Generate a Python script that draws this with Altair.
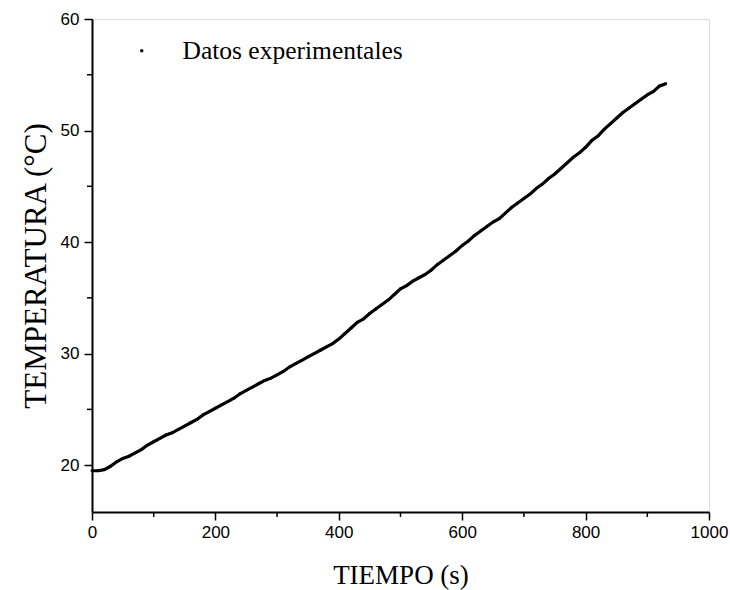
import altair as alt
import pandas as pd

# Heating curve: time (s) and measured temperature (°C)
tiempo = list(range(0, 940, 10))
temperatura = [
    19.5, 19.5, 19.6, 19.9, 20.3, 20.6, 20.8, 21.1, 21.4, 21.8,
    22.1, 22.4, 22.7, 22.9, 23.2, 23.5, 23.8, 24.1, 24.5, 24.8,
    25.1, 25.4, 25.7, 26.0, 26.4, 26.7, 27.0, 27.3, 27.6, 27.8,
    28.1, 28.4, 28.8, 29.1, 29.4, 29.7, 30.0, 30.3, 30.6, 30.9,
    31.3, 31.8, 32.3, 32.8, 33.1, 33.6, 34.0, 34.4, 34.8, 35.3,
    35.8, 36.1, 36.5, 36.8, 37.1, 37.5, 38.0, 38.4, 38.8, 39.2,
    39.7, 40.1, 40.6, 41.0, 41.4, 41.8, 42.1, 42.6, 43.1, 43.5,
    43.9, 44.3, 44.8, 45.2, 45.7, 46.1, 46.6, 47.1, 47.6, 48.0,
    48.5, 49.1, 49.5, 50.1, 50.6, 51.1, 51.6, 52.0, 52.4, 52.8,
    53.2, 53.5, 54.0, 54.2,
]
serie = "Datos experimentales"

x_major = [0, 200, 400, 600, 800, 1000]
x_minor = [100, 300, 500, 700, 900]
y_major = [20, 30, 40, 50, 60]
y_minor = [25, 35, 45, 55]

W, H = 617, 493

df = pd.DataFrame({"t": tiempo, "T": temperatura, "serie": serie})
df_xminor = pd.DataFrame({"t": x_minor})
df_yminor = pd.DataFrame({"T": y_minor})

SANS = "Liberation Sans"
SERIF = "Liberation Serif"

xscale = alt.Scale(domain=[0, 1000], nice=False, zero=False)
yscale = alt.Scale(domain=[15.8, 60], nice=False, zero=False)

major_axis = dict(
    grid=False, ticks=True, domainColor="black", domainWidth=2,
    tickColor="black", tickWidth=1.5, tickSize=8, format="d",
    labelFlush=False, labelFont=SANS, labelFontSize=17, labelColor="black",
    titleFont=SERIF, titleFontWeight="normal", titleColor="black",
)

line = alt.Chart(df).mark_line(color="black", strokeWidth=3.2).encode(
    x=alt.X("t:Q", scale=xscale,
            axis=alt.Axis(orient="bottom", values=x_major, title="TIEMPO (s)",
                          titleFontSize=27, labelPadding=4, titlePadding=22,
                          **major_axis)),
    y=alt.Y("T:Q", scale=yscale,
            axis=alt.Axis(orient="left", values=y_major,
                          title="TEMPERATURA (°C)", titleFontSize=31,
                          labelPadding=5, titlePadding=8, **major_axis)),
)

dots = alt.Chart(df).mark_circle(size=8, opacity=1).encode(
    x=alt.X("t:Q", scale=xscale),
    y=alt.Y("T:Q", scale=yscale),
    color=alt.Color("serie:N",
                    scale=alt.Scale(range=["black"]),
                    legend=alt.Legend(orient="none", legendX=37, legendY=19,
                                      title=None, symbolType="circle",
                                      symbolSize=12, symbolStrokeWidth=0,
                                      labelFont=SERIF, labelFontSize=25.5,
                                      labelColor="black", labelOffset=28,
                                      labelLimit=0)),
)

# minor ticks between the labelled values, drawn just outside the frame
xminor_ticks = alt.Chart(df_xminor).mark_rule(color="black", strokeWidth=1.5).encode(
    x=alt.X("t:Q", scale=xscale),
    y=alt.value(H),
    y2=alt.value(H + 5),
)
yminor_ticks = alt.Chart(df_yminor).mark_rule(color="black", strokeWidth=1.5).encode(
    y=alt.Y("T:Q", scale=yscale),
    x=alt.value(-5),
    x2=alt.value(0),
)

chart = (
    alt.layer(line, dots, xminor_ticks, yminor_ticks)
    .properties(
        width=W, height=H,
        autosize=alt.AutoSizeParams(type="none"),
        padding={"left": 92, "top": 19, "right": 21, "bottom": 78},
    )
    .configure_view(stroke="#444444", strokeWidth=1)
    .configure(background="white")
)

chart.save("out.html", embed_options={"renderer": "svg", "actions": False})
